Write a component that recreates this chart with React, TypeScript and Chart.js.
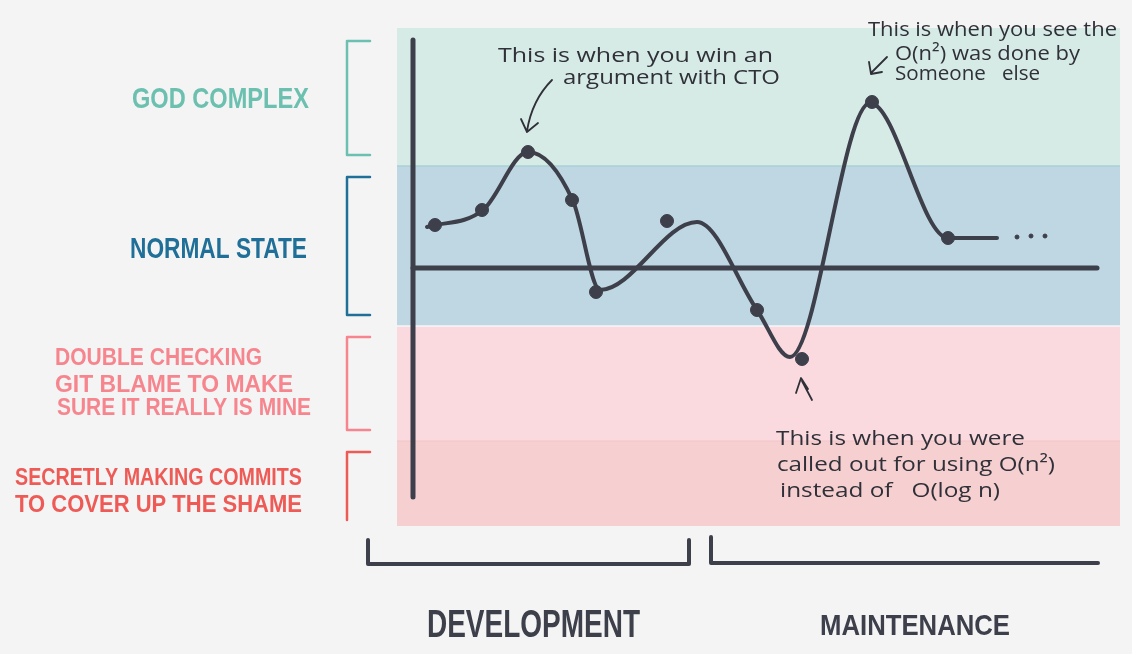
import React, { useEffect, useRef } from 'react';
import { Chart, registerables } from 'chart.js';

Chart.register(...registerables);

// ---------- DATA ----------
// x: time (arbitrary units), y: mood level (0 = neutral axis)
const CURVE_X = [3.0, 8.6, 13.1, 17.6, 20.3, 30.0, 36.0, 39.3, 47.3, 55.1, 60.0];
const CURVE_Y = [4.1, 5.8, 11.6, 6.7, -2.2, 4.6, -4.2, -8.9, 16.5, 3.0, 3.0];

const DOT_X = [3.8, 8.5, 13.1, 17.5, 19.9, 27.0, 36.0, 40.5, 47.5, 55.1];
const DOT_Y = [4.3, 5.8, 11.6, 6.8, -2.4, 4.7, -4.2, -9.1, 16.6, 3.0];

const TRAIL_X = [62.0, 63.4, 64.8];
const TRAIL_Y = [3.1, 3.2, 3.2];

const BAND_TOP = [24.0, 10.2, -5.8, -17.3];
const BAND_BOTTOM = [10.2, -5.8, -17.3, -25.8];
const BAND_LABELS = [
  ['GOD COMPLEX'],
  ['NORMAL STATE'],
  ['DOUBLE CHECKING', 'GIT BLAME TO MAKE', 'SURE IT REALLY IS MINE'],
  ['SECRETLY MAKING COMMITS', 'TO COVER UP THE SHAME'],
];

const PHASE_LABELS = ['DEVELOPMENT', 'MAINTENANCE'];
const PHASE_START = [-2.9, 31.4];
const PHASE_END = [29.2, 70.1];

const NOTE_LINES = [
  ['This is when you win an', 'argument with CTO'],
  ['This is when you see the', 'O(n²) was done by', 'Someone   else'],
  ['This is when you were', 'called out for using O(n²)', 'instead of   O(log n)'],
];

const X_MIN = 0;
const X_MAX = 72.3;
const Y_MIN = -25.8;
const Y_MAX = 24.0;
const AXIS_X = 1.6;
const AXIS_Y_TOP = 22.8;
const AXIS_Y_BOTTOM = -22.9;
const AXIS_X_END = 70.0;

// ---------- STYLE ----------
const INK = '#3d3f4b';
const PAPER = '#f4f4f4';
const BAND_FILLS = ['#d7ebe6', '#bfd7e2', '#fadade', '#f6d0d1'];
const BAND_INKS = ['#6cc0b0', '#1f6f98', '#f6858e', '#ee5a55'];
const LABEL_FONT = '"Liberation Sans", "DejaVu Sans", sans-serif';
const NOTE_FONT = '"Open Sans", "DejaVu Sans", sans-serif';
// [left x, baseline y, width] per line
const LABEL_BOXES = [
  [[132, 108, 177]],
  [[130, 258, 177]],
  [[55, 365, 207], [55, 392, 238], [57, 415, 254]],
  [[15, 485, 287], [15, 512, 287]],
];
const LABEL_SIZES = [30, 30, 24, 24];
const BRACKET_X = 347;
const BRACKET_ARM = 23;
const BRACKET_INSET = 11;
const NOTE_BOXES = [
  [[498, 62, 275], [563, 84, 217]],
  [[868, 36, 249], [895, 60, 185], [895, 80, 145]],
  [[776, 445, 249], [777, 471, 278], [780, 497, 220]],
];
const PHASE_BASELINES = [637, 635];
const PHASE_TEXT = [[427, 213, 38], [820, 190, 30]]; // left, width, size
const PHASE_BRACKET_TOP = [540, 537];
const PHASE_BRACKET_BOTTOM = [564, 563];
const PHASE_RIGHT_ARM = [true, false];

function drawFit(ctx: CanvasRenderingContext2D, text: string, x: number, y: number, w: number, font: string) {
  ctx.save();
  ctx.font = font;
  const m = ctx.measureText(text).width;
  ctx.translate(x, y);
  ctx.scale(w / m, 1);
  ctx.fillText(text, 0, 0);
  ctx.restore();
}

const decorPlugin = {
  id: 'decor',
  beforeDraw(chart: any) {
    const { ctx, width, height } = chart;
    ctx.save();
    ctx.fillStyle = PAPER;
    ctx.fillRect(0, 0, width, height);
    ctx.restore();
  },
  beforeDatasetsDraw(chart: any) {
    const { ctx, chartArea, scales } = chart;
    const xs = scales.x;
    const ys = scales.y;
    ctx.save();
    for (let i = 0; i < BAND_TOP.length; i++) {
      const t = ys.getPixelForValue(BAND_TOP[i]);
      const b = ys.getPixelForValue(BAND_BOTTOM[i]);
      ctx.fillStyle = BAND_FILLS[i];
      ctx.fillRect(chartArea.left, t, chartArea.right - chartArea.left, b - t);
    }
    // band separators
    ctx.lineWidth = 1.5;
    ctx.strokeStyle = '#a9d0d6';
    let yy = ys.getPixelForValue(BAND_TOP[1]);
    ctx.beginPath(); ctx.moveTo(chartArea.left, yy); ctx.lineTo(chartArea.right, yy); ctx.stroke();
    ctx.strokeStyle = '#f4f7f8';
    yy = ys.getPixelForValue(BAND_TOP[2]);
    ctx.beginPath(); ctx.moveTo(chartArea.left, yy); ctx.lineTo(chartArea.right, yy); ctx.stroke();
    ctx.strokeStyle = '#f3c4c7';
    ctx.lineWidth = 1;
    yy = ys.getPixelForValue(BAND_TOP[3]);
    ctx.beginPath(); ctx.moveTo(chartArea.left, yy); ctx.lineTo(chartArea.right, yy); ctx.stroke();

    // axes
    ctx.strokeStyle = INK;
    ctx.lineWidth = 5;
    ctx.lineCap = 'round';
    const ax = xs.getPixelForValue(AXIS_X);
    ctx.beginPath();
    ctx.moveTo(ax, ys.getPixelForValue(AXIS_Y_TOP));
    ctx.lineTo(ax, ys.getPixelForValue(AXIS_Y_BOTTOM));
    ctx.stroke();
    const ay = ys.getPixelForValue(0);
    ctx.beginPath();
    ctx.moveTo(ax, ay);
    ctx.lineTo(xs.getPixelForValue(AXIS_X_END), ay);
    ctx.stroke();
    ctx.restore();
  },
  afterDatasetsDraw(chart: any) {
    const { ctx, scales } = chart;
    const xs = scales.x;
    const ys = scales.y;
    ctx.save();
    ctx.textBaseline = 'alphabetic';
    ctx.lineCap = 'round';
    ctx.lineJoin = 'round';

    // left state labels + brackets
    for (let i = 0; i < BAND_LABELS.length; i++) {
      ctx.fillStyle = BAND_INKS[i];
      ctx.strokeStyle = BAND_INKS[i];
      BAND_LABELS[i].forEach((line, j) => {
        const [lx, by, w] = LABEL_BOXES[i][j];
        drawFit(ctx, line, lx, by, w, `bold ${LABEL_SIZES[i]}px ${LABEL_FONT}`);
      });
      const t = ys.getPixelForValue(BAND_TOP[i]) + BRACKET_INSET + (i === 0 ? 2 : 0);
      const b = ys.getPixelForValue(BAND_BOTTOM[i]) - BRACKET_INSET + (i === 3 ? 5 : 0);
      ctx.lineWidth = 2.5;
      ctx.beginPath();
      ctx.moveTo(BRACKET_X + BRACKET_ARM, t);
      ctx.lineTo(BRACKET_X, t);
      ctx.lineTo(BRACKET_X, b);
      if (i < 3) ctx.lineTo(BRACKET_X + BRACKET_ARM, b);
      ctx.stroke();
    }

    // bottom phase brackets + labels
    ctx.strokeStyle = INK;
    ctx.fillStyle = INK;
    ctx.lineWidth = 4;
    for (let i = 0; i < PHASE_LABELS.length; i++) {
      const l = xs.getPixelForValue(PHASE_START[i]);
      const r = xs.getPixelForValue(PHASE_END[i]);
      ctx.beginPath();
      ctx.moveTo(l, PHASE_BRACKET_TOP[i]);
      ctx.lineTo(l, PHASE_BRACKET_BOTTOM[i]);
      ctx.lineTo(r, PHASE_BRACKET_BOTTOM[i]);
      if (PHASE_RIGHT_ARM[i]) ctx.lineTo(r, PHASE_BRACKET_TOP[i]);
      ctx.stroke();
      const [tx, tw, ts] = PHASE_TEXT[i];
      drawFit(ctx, PHASE_LABELS[i], tx, PHASE_BASELINES[i], tw, `bold ${ts}px ${LABEL_FONT}`);
    }

    // annotations
    ctx.fillStyle = '#2f3038';
    NOTE_LINES.forEach((lines, i) => {
      lines.forEach((line, j) => {
        const [lx, by, w] = NOTE_BOXES[i][j];
        drawFit(ctx, line, lx, by, w, `20px ${NOTE_FONT}`);
      });
    });

    // arrows
    ctx.strokeStyle = '#2f3038';
    ctx.lineWidth = 1.8;
    ctx.beginPath();
    ctx.moveTo(552, 80);
    ctx.quadraticCurveTo(532, 100, 527, 131);
    ctx.moveTo(521, 119);
    ctx.lineTo(527, 132);
    ctx.lineTo(538, 123);
    ctx.stroke();

    ctx.beginPath();
    ctx.moveTo(887, 57);
    ctx.lineTo(872, 72);
    ctx.moveTo(869, 62);
    ctx.lineTo(871, 74);
    ctx.lineTo(882, 72);
    ctx.stroke();

    ctx.beginPath();
    ctx.moveTo(812, 400);
    ctx.lineTo(802, 381);
    ctx.moveTo(796, 393);
    ctx.lineTo(801, 378);
    ctx.lineTo(808, 389);
    ctx.stroke();

    ctx.restore();
  },
};

export default function App() {
  const ref = useRef<HTMLCanvasElement | null>(null);
  useEffect(() => {
    if (!ref.current) return;
    const chart = new Chart(ref.current, {
      type: 'scatter',
      data: {
        datasets: [
          {
            label: 'moments',
            data: DOT_X.map((x, i) => ({ x, y: DOT_Y[i] })),
            backgroundColor: INK,
            borderColor: INK,
            pointRadius: 6.5,
            pointHoverRadius: 6.5,
            showLine: false,
          },
          {
            label: 'trail',
            data: TRAIL_X.map((x, i) => ({ x, y: TRAIL_Y[i] })),
            backgroundColor: INK,
            borderColor: INK,
            pointRadius: 2,
            showLine: false,
          },
          {
            label: 'mood',
            data: CURVE_X.map((x, i) => ({ x, y: CURVE_Y[i] })),
            borderColor: INK,
            borderWidth: 4,
            pointRadius: 0,
            showLine: true,
            cubicInterpolationMode: 'monotone',
            borderCapStyle: 'round',
          } as any,
        ],
      },
      options: {
        animation: false,
        responsive: false,
        clip: false as any,
        layout: { padding: { left: 397, right: 12, top: 28, bottom: 128 } },
        plugins: { legend: { display: false }, tooltip: { enabled: false } },
        events: [],
        scales: {
          x: { type: 'linear', min: X_MIN, max: X_MAX, display: false },
          y: { type: 'linear', min: Y_MIN, max: Y_MAX, display: false },
        },
      },
      plugins: [decorPlugin],
    });
    return () => chart.destroy();
  }, []);
  return (
    <div style={{ position: 'absolute', left: 0, top: 0, width: 1132, height: 654, background: PAPER }}>
      <canvas ref={ref} width={1132} height={654} />
    </div>
  );
}
